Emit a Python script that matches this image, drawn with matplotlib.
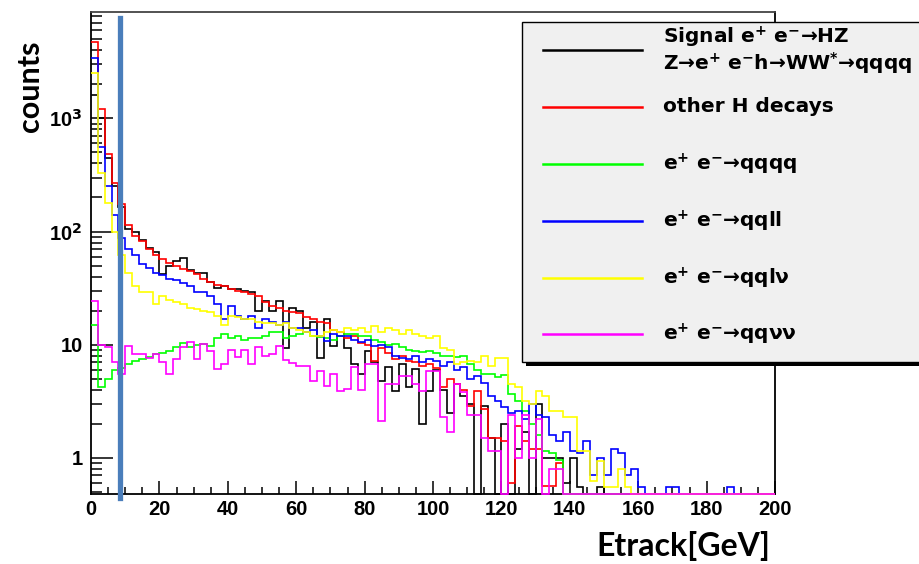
import numpy as np
import matplotlib

matplotlib.use("Agg")
import matplotlib.pyplot as plt
from matplotlib.patches import Rectangle
from matplotlib.ticker import FixedLocator, FixedFormatter, MultipleLocator, NullFormatter

plt.rcParams["font.family"] = ["Liberation Sans", "DejaVu Sans"]
plt.rcParams["mathtext.fontset"] = "custom"
plt.rcParams["mathtext.rm"] = "DejaVu Sans:bold"
plt.rcParams["mathtext.it"] = "DejaVu Sans:bold"
plt.rcParams["mathtext.bf"] = "DejaVu Sans:bold"

# 2 GeV bins, 0..200 GeV
bin_edges = np.arange(0, 202, 2)

signal = [
    1600, 1000, 450, 250, 165, 105, 100, 85, 72, 66,
    42, 50, 55, 58, 46, 43, 43, 36, 32, 33,
    31, 31, 30, 29, 20, 24.5, 20, 24.5, 9.4, 21,
    20, 14, 16, 7.6, 17, 9.8, 12, 9.4, 6.8, 5.5,
    8.8, 7, 4.8, 6.3, 3.9, 6.8, 4.2, 6.1, 2, 3.9,
    6, 4, 2.5, 4.5, 3.5, 3, 0, 2.9, 1.5, 0,
    2, 0, 1.2, 1.7, 0, 3, 1, 1, 1, 0.6,
    1, 0.55, 0, 0, 0.55, 0, 0, 0, 0, 0,
    0, 0, 0, 0, 0, 0, 0, 0, 0, 0,
    0, 0, 0, 0, 0, 0, 0, 0, 0, 0,
]
other_h = [
    4700, 1200, 480, 270, 175, 115, 92, 82, 70, 62,
    57, 53, 50, 47, 45, 42, 38, 36, 34, 33,
    31, 30, 29, 28, 27, 24, 22, 21, 20, 19.5,
    19, 17.5, 17, 16, 15.5, 13.5, 13, 11.5, 12, 10.4,
    10, 7.2, 9.4, 8.5, 7.5, 8, 7.2, 7, 6.5, 6.8,
    6.2, 4.2, 5, 4.5, 4, 2.9, 3.9, 2.7, 1.5, 1.5,
    1.4, 0.6, 1.9, 1.4, 1.2, 1.2, 0.57, 0.57, 0.9, 0,
    0, 0, 0, 0, 0, 0, 0, 0, 0, 0,
    0, 0, 0, 0, 0, 0, 0, 0, 0, 0,
    0, 0, 0, 0, 0, 0, 0, 0, 0, 0,
]
qqqq = [
    15, 4.2, 5, 6, 6.2, 6.8, 7.2, 7.5, 7.8, 8.3,
    8.5, 8.8, 9.5, 10.4, 9.5, 10, 10.2, 9.8, 11.5, 12.5,
    11.5, 12, 11, 11.5, 11.5, 12, 13, 13, 11.5, 12,
    12.5, 13, 12, 11.8, 11.5, 11, 12, 12.5, 12.5, 12,
    12, 11, 10.5, 10, 10.2, 9.5, 9, 8.8, 8.6, 8.8,
    8.5, 8, 8, 7.8, 8, 6.8, 6, 5.5, 5.5, 5.2,
    5.4, 3.7, 3.2, 2.6, 2, 1.6, 1.15, 1.1, 0.95, 0,
    0, 0, 0, 0, 0, 0, 0, 0, 0, 0,
    0, 0, 0, 0, 0, 0, 0, 0, 0, 0,
    0, 0, 0, 0, 0, 0, 0, 0, 0, 0,
]
qqll = [
    3400, 560, 250, 140, 88, 70, 62, 52, 48, 43,
    41, 38, 37, 35, 33, 29, 29, 27, 23, 17,
    22, 18, 17, 18, 14, 17, 16, 15, 16, 14,
    14, 13, 13.5, 12, 10.8, 12.5, 12, 12, 11, 10.5,
    11, 9.8, 10, 9.5, 8, 7.7, 7.5, 8, 7, 7.5,
    7.2, 6.5, 7, 6, 6.4, 5, 5.3, 4.6, 3.5, 3.2,
    2.8, 2.5, 2.6, 2.2, 3, 2.4, 2.3, 1.6, 1.4, 1.7,
    1.15, 1.1, 1.4, 0.7, 1, 0.7, 1.2, 1.1, 0.7, 0.8,
    0.55, 0, 0, 0, 0.55, 0.55, 0, 0, 0, 0,
    0, 0, 0, 0.55, 0, 0, 0, 0, 0, 0,
]
qqlnu = [
    2500, 330, 180, 100, 62, 43, 33, 29, 29, 23,
    27, 25, 24, 23, 21, 20.5, 20, 19.5, 18, 15,
    18, 17.5, 17, 17, 16, 15.5, 15.5, 15, 15.5, 14,
    13.5, 13, 12, 12, 13, 13.5, 13, 14, 13.5, 14,
    13, 14.5, 13, 14, 13.5, 12.5, 13.5, 12.5, 12, 11.5,
    12, 9.4, 9, 6.8, 7, 7.2, 7, 8, 6.5, 7.7,
    7.7, 4.5, 4.2, 3.2, 3, 3.9, 3.5, 2.6, 2.6, 2.3,
    2.3, 1.15, 1.15, 0.63, 0.94, 0.55, 0.55, 0.8, 0.55, 0,
    0, 0, 0, 0, 0, 0, 0, 0, 0, 0,
    0, 0, 0, 0, 0, 0, 0, 0, 0, 0,
]
qqnunu = [
    24.5, 10, 9.5, 7, 5.5, 9.8, 8.3, 8.3, 7.6, 8.3,
    7, 5.5, 7.5, 9.5, 10.5, 7.5, 10.2, 8.8, 6.1, 6.8,
    9, 7.8, 9, 6.8, 9.5, 8, 8.2, 9.8, 7.3, 6.9,
    6.5, 6.5, 4.8, 5.9, 4.3, 5.5, 3.9, 4.1, 6.3, 4,
    6.8, 6.8, 2.1, 4.5, 4.5, 5.3, 5.3, 4.5, 3.9, 5.9,
    5.9, 2.3, 1.7, 4.5, 3.8, 2.4, 2.4, 1.5, 1.15, 1.15,
    0, 2.4, 1, 2.4, 1, 2.2, 0, 0.8, 0.8, 0,
    0, 0, 0, 0, 0, 0, 0, 0, 0, 0,
    0, 0, 0, 0, 0, 0, 0, 0, 0, 0,
    0, 0, 0, 0, 0, 0, 0, 0, 0, 0,
]

series = [signal, other_h, qqqq, qqll, qqlnu, qqnunu]
colors = ["#000000", "#ff0000", "#00ff00", "#0000ff", "#ffff00", "#ff00ff"]
labels = [
    ["Signal e$^{+}$ e$^{-}$\u2192HZ", "Z\u2192e$^{+}$ e$^{-}$h\u2192WW$^{*}$\u2192qqqq"],
    ["other H decays"],
    ["e$^{+}$ e$^{-}$\u2192qqqq"],
    ["e$^{+}$ e$^{-}$\u2192qqll"],
    ["e$^{+}$ e$^{-}$\u2192qql\u03bd"],
    ["e$^{+}$ e$^{-}$\u2192qq\u03bd\u03bd"],
]

cut_value = 8.5
y_min, y_max = 0.48, 8700
y_tick_vals = [1, 10, 100, 1000]
y_tick_text = ["1", "10", "10$^{2}$", "10$^{3}$"]

W, H = 919, 564
fig = plt.figure(figsize=(W / 100, H / 100), dpi=100, facecolor="white")
ax = fig.add_axes([91 / W, 1 - 494 / H, (775 - 91) / W, (494 - 12) / H])

for vals, col in zip(series, colors):
    v = np.asarray(vals, dtype=float)
    v = np.where(v > 0, v, y_min)  # empty bins sit on the frame, as in ROOT
    ax.stairs(v, bin_edges, baseline=None, color=col, linewidth=1.2,
              clip_on=False, zorder=3)

ax.axvline(cut_value, ymin=-0.008, ymax=0.988, color="#4a7ebb", linewidth=3.8,
           clip_on=False, zorder=4)

ax.set_yscale("log")
ax.set_xlim(0, 200)
ax.set_ylim(y_min, y_max)

ax.xaxis.set_major_locator(MultipleLocator(20))
ax.xaxis.set_minor_locator(MultipleLocator(5))
ax.yaxis.set_major_locator(FixedLocator(y_tick_vals))
ax.yaxis.set_major_formatter(FixedFormatter(y_tick_text))
minor_y = [m * 10.0 ** e for e in range(-1, 4) for m in range(2, 10)]
ax.yaxis.set_minor_locator(FixedLocator(minor_y))
ax.yaxis.set_minor_formatter(NullFormatter())

ax.tick_params(axis="x", which="major", direction="in", length=9.5, width=1.1,
               labelsize=14.5, pad=4, top=False, labelfontfamily="Liberation Sans")
ax.tick_params(axis="x", which="minor", direction="in", length=4.7, width=1.1, top=False)
ax.tick_params(axis="y", which="major", direction="in", length=16, width=1.1,
               labelsize=14.5, pad=6, right=False, labelfontfamily="Liberation Sans")
ax.tick_params(axis="y", which="minor", direction="in", length=8, width=1.1, right=False)
for lab in ax.get_xticklabels() + ax.get_yticklabels():
    lab.set_fontweight("bold")
for sp in ax.spines.values():
    sp.set_linewidth(1.3)
ax.spines["top"].set_color("#444444")

fig.text(30 / W, 1 - 86 / H, "counts", rotation=90, ha="center", va="center",
         fontsize=22, fontweight="bold", family=["Lato", "DejaVu Sans"])
fig.text(770 / W, 1 - 546 / H, "Etrack[GeV]", ha="right", va="center",
         fontsize=23, fontweight="bold", family=["Lato", "DejaVu Sans"])

# legend box in pixel coordinates (runs past the right edge like the original)
pix = fig.add_axes([0, 0, 1, 1], zorder=5)
pix.set_xlim(0, W)
pix.set_ylim(H, 0)
pix.axis("off")
pix.add_patch(Rectangle((526, 26), 440, 340, facecolor="black", edgecolor="none"))
pix.add_patch(Rectangle((522, 22), 440, 340, facecolor="#f0f0f0", edgecolor="black",
                        linewidth=1))
row_y = [50, 107, 164, 221, 278, 334]
for y, col, lines in zip(row_y, colors, labels):
    pix.plot([543, 642], [y, y], color=col, linewidth=1.8)
    n = len(lines)
    for k, txt in enumerate(lines):
        ty = y + (k - (n - 1) / 2) * 26
        pix.text(663, ty, txt, ha="left", va="center", fontsize=14.5, fontweight="bold",
                 family=["DejaVu Sans"])

fig.savefig("out.png", dpi=100, facecolor="white")
